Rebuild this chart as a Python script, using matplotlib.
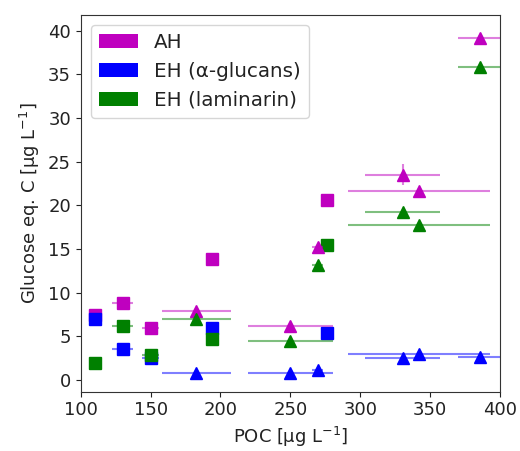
import matplotlib
matplotlib.use("Agg")
import matplotlib.pyplot as plt
from matplotlib.patches import Patch

# Square-marker samples
sq_poc = [110.2, 130.0, 150.1, 194.1, 276.0]
sq_poc_err = [1.5, 7.5, 6.0, 1.0, 1.0]
sq_ah = [7.4, 8.8, 6.0, 13.9, 20.6]
sq_eh_glucan = [7.0, 3.5, 2.5, 6.0, 5.4]
sq_eh_lam = [1.9, 6.2, 2.85, 4.7, 15.5]

# Triangle-marker samples
tri_poc = [182.8, 250.1, 269.5, 330.3, 342.2, 385.7]
tri_poc_err = [24.7, 30.5, 4.0, 26.6, 51.0, 15.7]
tri_ah = [7.9, 6.2, 15.2, 23.5, 21.7, 39.2]
tri_ah_err = [0.2, 0.2, 0.3, 1.2, 0.2, 0.2]
tri_eh_glucan = [0.75, 0.85, 1.1, 2.5, 2.95, 2.65]
tri_eh_lam = [7.0, 4.5, 13.2, 19.2, 17.7, 35.9]

labels = ["AH", "EH (α-glucans)", "EH (laminarin)"]
colors = ["m", "b", "g"]

fig = plt.figure(figsize=(5.2, 4.51), dpi=100)
ax = fig.add_axes([0.1552, 0.1315, 0.8063, 0.8352])

sq_series = [sq_ah, sq_eh_glucan, sq_eh_lam]
tri_series = [tri_ah, tri_eh_glucan, tri_eh_lam]
tri_yerrs = [tri_ah_err, None, None]

for ys, c in zip(sq_series, colors):
    ax.errorbar(sq_poc, ys, xerr=sq_poc_err, fmt="none", ecolor=c, alpha=0.5, elinewidth=1.5)
    ax.plot(sq_poc, ys, "s", color=c, markersize=9, linestyle="none")

for ys, ye, c in zip(tri_series, tri_yerrs, colors):
    ax.errorbar(tri_poc, ys, xerr=tri_poc_err, yerr=ye, fmt="none", ecolor=c, alpha=0.5, elinewidth=1.5)
    ax.plot(tri_poc, ys, "^", color=c, markersize=9, linestyle="none")

ax.set_xlim(100, 400)
ax.set_ylim(-1.34, 41.8)
ax.set_xticks([100, 150, 200, 250, 300, 350, 400])
ax.set_yticks([0, 5, 10, 15, 20, 25, 30, 35, 40])
ax.tick_params(labelsize=13, colors="#222222")
for s in ax.spines.values():
    s.set_color("#333333")
ax.set_xlabel("POC [µg L$^{-1}$]", fontsize=13, color="#222222")
ax.set_ylabel("Glucose eq. C [µg L$^{-1}$]", fontsize=13, color="#222222")

handles = [Patch(facecolor=c, label=l) for c, l in zip(colors, labels)]
leg = ax.legend(handles=handles, loc="upper left", fontsize=14.3)
for t in leg.get_texts():
    t.set_color("#222222")

fig.savefig("out.png", dpi=100)
